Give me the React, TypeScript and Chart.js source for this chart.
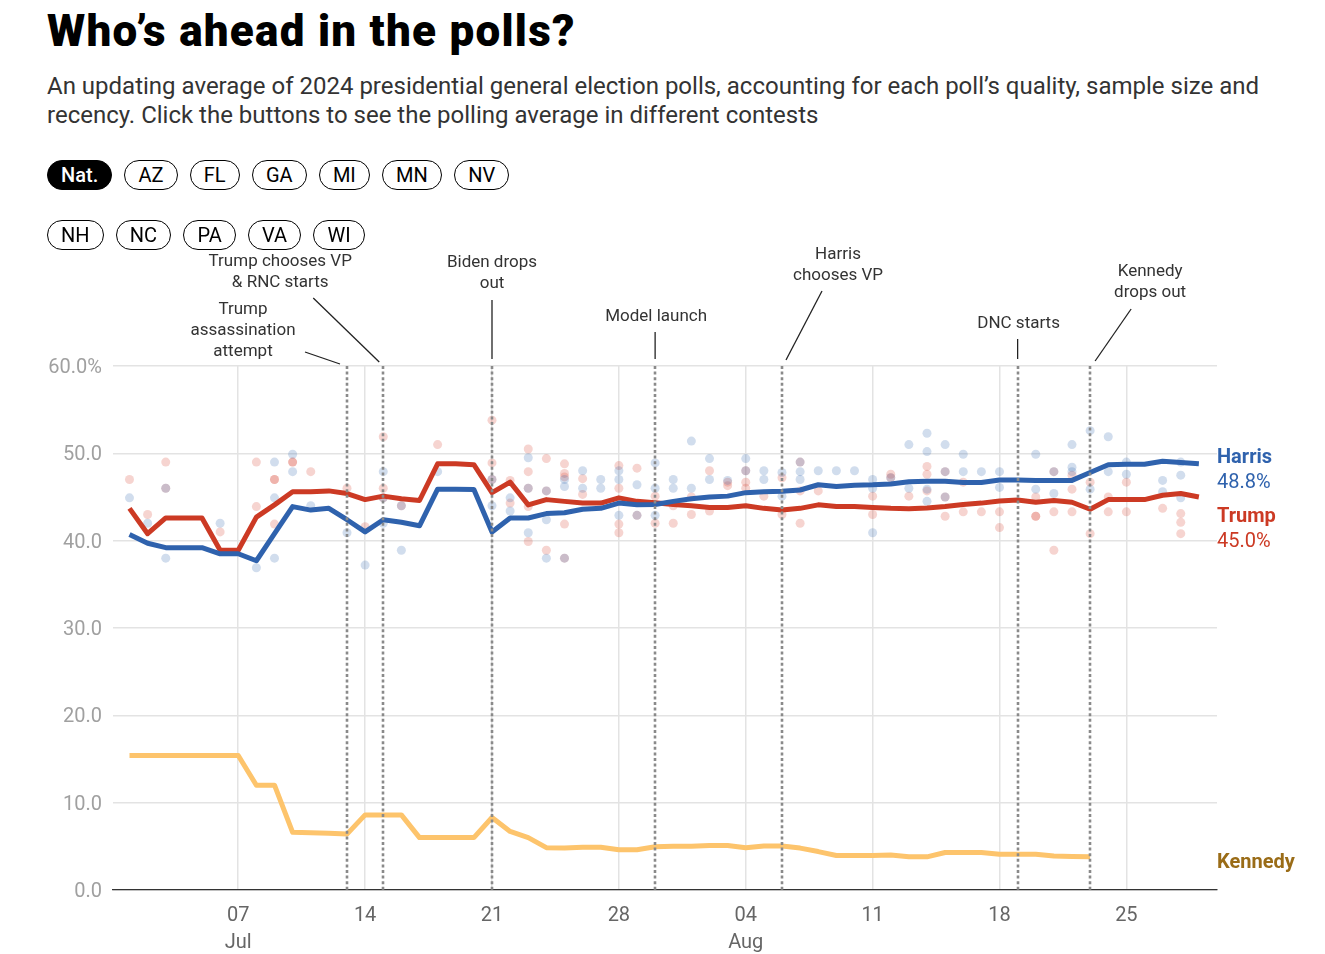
import React, { useEffect, useRef } from 'react';
import { Chart, registerables } from 'chart.js';

Chart.register(...registerables);

// x values are days counted from 1 Jul 2024 (day 0 = 1 Jul)
const harrisAvg = [
  40.7, 39.7, 39.2, 39.2, 39.2, 38.5, 38.5, 37.7, 40.8, 43.9,
  43.5, 43.7, 42.4, 41.0, 42.4, 42.1, 41.7, 45.9, 45.9, 45.85,
  41.0, 42.6, 42.6, 43.1, 43.2, 43.6, 43.7, 44.3, 44.1, 44.15,
  44.5, 44.8, 45.0, 45.1, 45.5, 45.6, 45.65, 45.8, 46.4, 46.2,
  46.35, 46.4, 46.5, 46.75, 46.8, 46.8, 46.65, 46.65, 46.95, 46.95,
  46.9, 46.9, 46.9, 47.8, 48.7, 48.75, 48.75, 49.1, 48.95, 48.8,
];

const trumpAvg = [
  43.7, 40.8, 42.6, 42.6, 42.6, 38.9, 38.9, 42.7, 44.1, 45.6,
  45.6, 45.7, 45.4, 44.7, 45.1, 44.8, 44.6, 48.8, 48.8, 48.7,
  45.5, 46.7, 44.1, 44.7, 44.5, 44.3, 44.3, 44.9, 44.5, 44.35,
  44.15, 44.0, 43.8, 43.8, 44.0, 43.7, 43.5, 43.7, 44.1, 43.9,
  43.9, 43.8, 43.7, 43.65, 43.75, 43.9, 44.15, 44.3, 44.55, 44.65,
  44.4, 44.6, 44.4, 43.6, 44.7, 44.7, 44.7, 45.2, 45.4, 45.0,
];

const kennedyAvg = [
  15.4, 15.4, 15.4, 15.4, 15.4, 15.4, 15.4, 12.0, 12.0, 6.6,
  6.55, 6.5, 6.4, 8.6, 8.6, 8.6, 6.0, 6.0, 6.0, 6.0,
  8.3, 6.7, 6.0, 4.85, 4.8, 4.9, 4.9, 4.6, 4.6, 4.95,
  5.0, 5.0, 5.1, 5.1, 4.85, 5.05, 5.05, 4.8, 4.4, 3.95,
  3.95, 3.95, 4.0, 3.8, 3.8, 4.3, 4.3, 4.3, 4.1, 4.1,
  4.1, 3.9, 3.85, 3.8,
];

// individual polls: [day, value]
const harrisPolls = [
  [0, 44.9], [1, 42.0], [2, 38.0], [2, 46], [5, 42.0], [7, 36.9], [8, 49], [8, 44.9], [8, 38.0],
  [9, 49.9], [9, 47.9], [10, 44], [12, 40.9], [13, 37.2], [14, 47.9], [14, 44.9], [14, 42],
  [15, 38.9], [15, 44], [17, 47.9], [20, 44], [20, 47], [21, 44.9], [21, 43.4], [22, 49.5],
  [22, 46], [22, 40.9], [23, 45.7], [23, 42.4], [23, 38], [24, 47], [24, 46.2], [24, 38],
  [25, 48], [25, 46], [26, 47], [26, 46], [27, 48], [27, 47], [27, 42.9], [28, 46.4], [28, 42.9],
  [29, 48.9], [29, 46], [29, 42.9], [30, 47], [30, 46], [31, 51.4], [31, 46], [32, 49.4], [32, 47],
  [33, 46.9], [34, 49.4], [34, 48], [35, 48], [35, 47], [36, 47.8], [36, 45.1], [37, 49], [37, 47.9],
  [37, 47], [38, 48], [39, 48], [40, 48], [41, 47], [41, 46], [41, 40.9], [42, 47.2], [43, 51],
  [43, 46], [44, 52.3], [44, 50.2], [44, 45.9], [44, 44.5], [45, 51], [45, 47.9], [45, 45],
  [46, 49.9], [46, 47.9], [47, 47.9], [48, 47.9], [48, 46.1], [50, 49.9], [50, 45.9], [51, 47.9],
  [51, 45.4], [52, 51], [52, 48.4], [52, 47.9], [53, 52.6], [53, 45.9], [54, 51.9], [54, 47.9],
  [55, 49], [55, 47.6], [57, 46.9], [57, 45.6], [58, 49], [58, 47.5], [58, 44.9],
];

const trumpPolls = [
  [0, 47], [1, 43], [2, 49], [2, 46], [5, 41], [7, 49], [7, 43.9], [8, 47], [8, 47], [8, 41.9],
  [9, 49], [9, 49], [10, 47.9], [12, 46], [13, 41.6], [14, 51.9], [14, 46], [14, 44.9], [15, 44],
  [17, 51], [20, 53.8], [20, 48.9], [20, 47], [21, 46.9], [21, 44.3], [22, 50.5], [22, 47.9],
  [22, 46], [22, 43.9], [22, 39.9], [23, 49.4], [23, 45.7], [23, 38.9], [24, 48.8], [24, 47.7],
  [24, 47.3], [24, 41.9], [24, 38], [25, 47.1], [25, 45.3], [27, 48.6], [27, 46], [27, 41.9],
  [27, 40.9], [28, 48.3], [28, 42.9], [29, 45.1], [29, 42], [30, 44], [30, 42], [31, 45], [31, 43],
  [32, 48], [32, 43.4], [33, 46.3], [33, 46.7], [34, 48], [34, 46.7], [34, 46], [35, 45.1],
  [36, 47.2], [36, 43], [37, 49], [37, 45.7], [37, 42], [38, 45.7], [41, 45.1], [41, 43],
  [42, 47.6], [42, 47.2], [43, 45.1], [44, 48.5], [44, 47.6], [44, 45.7], [45, 45], [45, 47.9],
  [45, 42.8], [46, 46.7], [46, 43.3], [47, 43.3], [48, 43.3], [48, 41.5], [50, 45], [50, 42.8],
  [50, 42.8], [51, 47.9], [51, 43.3], [51, 38.9], [52, 47.5], [52, 45.9], [52, 43.3], [53, 46.7],
  [53, 40.8], [54, 45], [54, 43.3], [55, 46.7], [55, 43.3], [57, 43.7], [58, 43.1], [58, 42.1],
  [58, 40.8],
];

const tickDays = [6, 13, 20, 27, 34, 41, 48, 55];
const tickLabels = [['07', 'Jul'], '14', '21', '28', ['04', 'Aug'], '11', '18', '25'];
const yTicks = [0, 10, 20, 30, 40, 50, 60];

const eventDays = [12, 14, 20, 29, 36, 49, 53];
const eventLabels = [
  ['Trump', 'assassination', 'attempt'],
  ['Trump chooses VP', '& RNC starts'],
  ['Biden drops', 'out'],
  ['Model launch'],
  ['Harris', 'chooses VP'],
  ['DNC starts'],
  ['Kennedy', 'drops out'],
];

const contestsRow1 = ['Nat.', 'AZ', 'FL', 'GA', 'MI', 'MN', 'NV'];
const contestsRow2 = ['NH', 'NC', 'PA', 'VA', 'WI'];

const seriesNames = ['Harris', 'Trump', 'Kennedy'];

// ---- styling (layout offsets for annotations, relative to event line / chart top) ----
const eventLayout = [
  { dx: -104, ty: -56, lead: [-42, -14, -7, -2] },
  { dx: -103, ty: -104, lead: [-70, -68, -4, -4] },
  { dx: 0, ty: -103, lead: [0, -66, 0, -7] },
  { dx: 1, ty: -49, lead: [0, -34, 0, -7] },
  { dx: 56, ty: -111, lead: [40, -75, 4, -6] },
  { dx: 1, ty: -42, lead: [0, -27, 0, -7] },
  { dx: 60, ty: -94, lead: [41, -57, 5, -5] },
];

const HARRIS = '#2f62ad';
const TRUMP = '#cc3a24';
const KENNEDY = '#fdc46c';
const KENNEDY_TEXT = '#9a6c17';
const FONT = 'Roboto, "Noto Sans", sans-serif';

const overlayPlugin = {
  id: 'overlay',
  afterDatasetsDraw(chart: any) {
    const { ctx, chartArea, scales } = chart;
    const x = scales.x;
    ctx.save();
    ctx.strokeStyle = '#8a8a8a';
    ctx.lineWidth = 2.6;
    ctx.setLineDash([3, 2.6]);
    eventDays.forEach((d) => {
      const px = Math.round(x.getPixelForValue(d));
      ctx.beginPath();
      ctx.moveTo(px, chartArea.top);
      ctx.lineTo(px, chartArea.bottom);
      ctx.stroke();
    });
    ctx.restore();
  },
  afterDraw(chart: any) {
    const { ctx, chartArea, scales } = chart;
    const x = scales.x;
    const y = scales.y;
    const top = chartArea.top;
    ctx.save();
    // event annotations
    ctx.font = `17px ${FONT}`;
    ctx.fillStyle = '#333';
    ctx.textAlign = 'center';
    ctx.textBaseline = 'middle';
    eventDays.forEach((d, i) => {
      const px = x.getPixelForValue(d);
      const lay = eventLayout[i];
      eventLabels[i].forEach((line, j) => {
        ctx.fillText(line, px + lay.dx, top + lay.ty + j * 21);
      });
      ctx.strokeStyle = '#222';
      ctx.lineWidth = 1.3;
      ctx.beginPath();
      ctx.moveTo(px + lay.lead[0], top + lay.lead[1]);
      ctx.lineTo(px + lay.lead[2], top + lay.lead[3]);
      ctx.stroke();
    });
    // end-of-line labels
    const rx = chartArea.right;
    ctx.textAlign = 'left';
    const hLast = harrisAvg[harrisAvg.length - 1];
    const tLast = trumpAvg[trumpAvg.length - 1];
    const kLast = kennedyAvg[kennedyAvg.length - 1];
    const hy = y.getPixelForValue(hLast);
    const ty = y.getPixelForValue(tLast);
    const ky = y.getPixelForValue(kLast);
    ctx.fillStyle = HARRIS;
    ctx.font = `bold 20px ${FONT}`;
    ctx.fillText(seriesNames[0], rx, hy - 6);
    ctx.font = `20px ${FONT}`;
    ctx.fillText(hLast.toFixed(1) + '%', rx, hy + 19);
    ctx.fillStyle = TRUMP;
    ctx.font = `bold 20px ${FONT}`;
    ctx.fillText(seriesNames[1], rx, ty + 20);
    ctx.font = `20px ${FONT}`;
    ctx.fillText(tLast.toFixed(1) + '%', rx, ty + 45);
    ctx.fillStyle = KENNEDY_TEXT;
    ctx.font = `bold 20px ${FONT}`;
    ctx.fillText(seriesNames[2], rx, ky + 6);
    ctx.restore();
  },
};

function PollChart() {
  const ref = useRef<HTMLCanvasElement | null>(null);
  useEffect(() => {
    if (!ref.current) return;
    const toPts = (arr: number[]) => arr.map((v, i) => ({ x: i, y: v }));
    const pollPts = (arr: number[][]) => arr.map((p) => ({ x: p[0], y: p[1] }));
    const chart = new Chart(ref.current, {
      type: 'line',
      data: {
        datasets: [
          {
            label: seriesNames[0], data: toPts(harrisAvg), borderColor: HARRIS, borderWidth: 5,
            pointRadius: 0, tension: 0, borderJoinStyle: 'round', order: 0,
          },
          {
            label: seriesNames[1], data: toPts(trumpAvg), borderColor: TRUMP, borderWidth: 5,
            pointRadius: 0, tension: 0, borderJoinStyle: 'round', order: 1,
          },
          {
            label: seriesNames[2], data: toPts(kennedyAvg), borderColor: KENNEDY, borderWidth: 5,
            pointRadius: 0, tension: 0, borderJoinStyle: 'round', order: 2,
          },
          {
            type: 'scatter', label: 'Harris polls', data: pollPts(harrisPolls), showLine: false,
            pointRadius: 4.5, pointBorderWidth: 0, backgroundColor: 'rgba(47,98,173,0.22)', order: 3,
          } as any,
          {
            type: 'scatter', label: 'Trump polls', data: pollPts(trumpPolls), showLine: false,
            pointRadius: 4.5, pointBorderWidth: 0, backgroundColor: 'rgba(214,60,40,0.22)', order: 4,
          } as any,
        ],
      },
      options: {
        animation: false,
        responsive: false,
        maintainAspectRatio: false,
        layout: { padding: { left: 0, right: 108, top: 126, bottom: 0 } },
        plugins: { legend: { display: false }, tooltip: { enabled: false } },
        scales: {
          x: {
            type: 'linear',
            min: -0.91,
            max: 60,
            afterBuildTicks: (axis: any) => {
              axis.ticks = tickDays.map((v) => ({ value: v }));
            },
            afterFit: (s: any) => { s.height = 64; },
            ticks: {
              autoSkip: false,
              maxRotation: 0,
              padding: 12,
              color: '#666',
              font: { family: FONT, size: 20, lineHeight: 1.35 },
              callback: (_v: any, i: number) => tickLabels[i],
            },
            grid: { color: '#e3e3e3', lineWidth: 1.5, drawTicks: false },
            border: { display: true, color: '#333', width: 1.2 },
          },
          y: {
            min: 0,
            max: 60,
            afterBuildTicks: (axis: any) => {
              axis.ticks = yTicks.map((v) => ({ value: v }));
            },
            afterFit: (s: any) => { s.width = 113; },
            ticks: {
              padding: 11,
              labelOffset: 2,
              color: '#a0a0a0',
              font: { family: FONT, size: 20 },
              callback: (v: any) => (v === 60 ? '60.0%' : Number(v).toFixed(1)),
            },
            grid: { color: '#e3e3e3', lineWidth: 1.5, drawTicks: false },
            border: { display: false },
          },
        },
      } as any,
      plugins: [overlayPlugin],
    });
    let alive = true;
    if ((document as any).fonts && (document as any).fonts.ready) {
      (document as any).fonts.ready.then(() => { if (alive) chart.update(); });
    }
    return () => { alive = false; chart.destroy(); };
  }, []);
  return (
    <canvas
      ref={ref}
      width={1325}
      height={714}
      style={{ position: 'absolute', left: 0, top: 240, width: 1325, height: 714 }}
    />
  );
}

function Pill({ label, active }: { label: string; active: boolean }) {
  return (
    <div
      style={{
        display: 'inline-flex',
        alignItems: 'center',
        justifyContent: 'center',
        height: 30,
        boxSizing: 'border-box',
        padding: '0 13px',
        border: '1.3px solid #000',
        borderRadius: 15,
        fontSize: 20,
        fontWeight: active ? 500 : 400,
        background: active ? '#000' : '#fff',
        color: active ? '#fff' : '#000',
      }}
    >
      {label}
    </div>
  );
}

export default function App() {
  return (
    <div
      style={{
        position: 'absolute', left: 0, top: 0, width: 1325, height: 954,
        background: '#fff', fontFamily: FONT, overflow: 'hidden',
      }}
    >
      <PollChart />
      <div style={{ position: 'absolute', left: 47, top: 5, fontSize: 44, fontWeight: 900, lineHeight: '52px', letterSpacing: 1.25, color: '#000', whiteSpace: 'nowrap' }}>
        Who’s ahead in the polls?
      </div>
      <div style={{ position: 'absolute', left: 47, top: 72, width: 1240, fontSize: 24, lineHeight: '29px', color: '#333' }}>
        An updating average of 2024 presidential general election polls, accounting for each poll’s quality, sample size and recency. Click the buttons to see the polling average in different contests
      </div>
      <div style={{ position: 'absolute', left: 47, top: 160, display: 'flex', gap: 12.3 }}>
        {contestsRow1.map((c, i) => <Pill key={c} label={c} active={i === 0} />)}
      </div>
      <div style={{ position: 'absolute', left: 47, top: 220, display: 'flex', gap: 12.3 }}>
        {contestsRow2.map((c) => <Pill key={c} label={c} active={false} />)}
      </div>
    </div>
  );
}
